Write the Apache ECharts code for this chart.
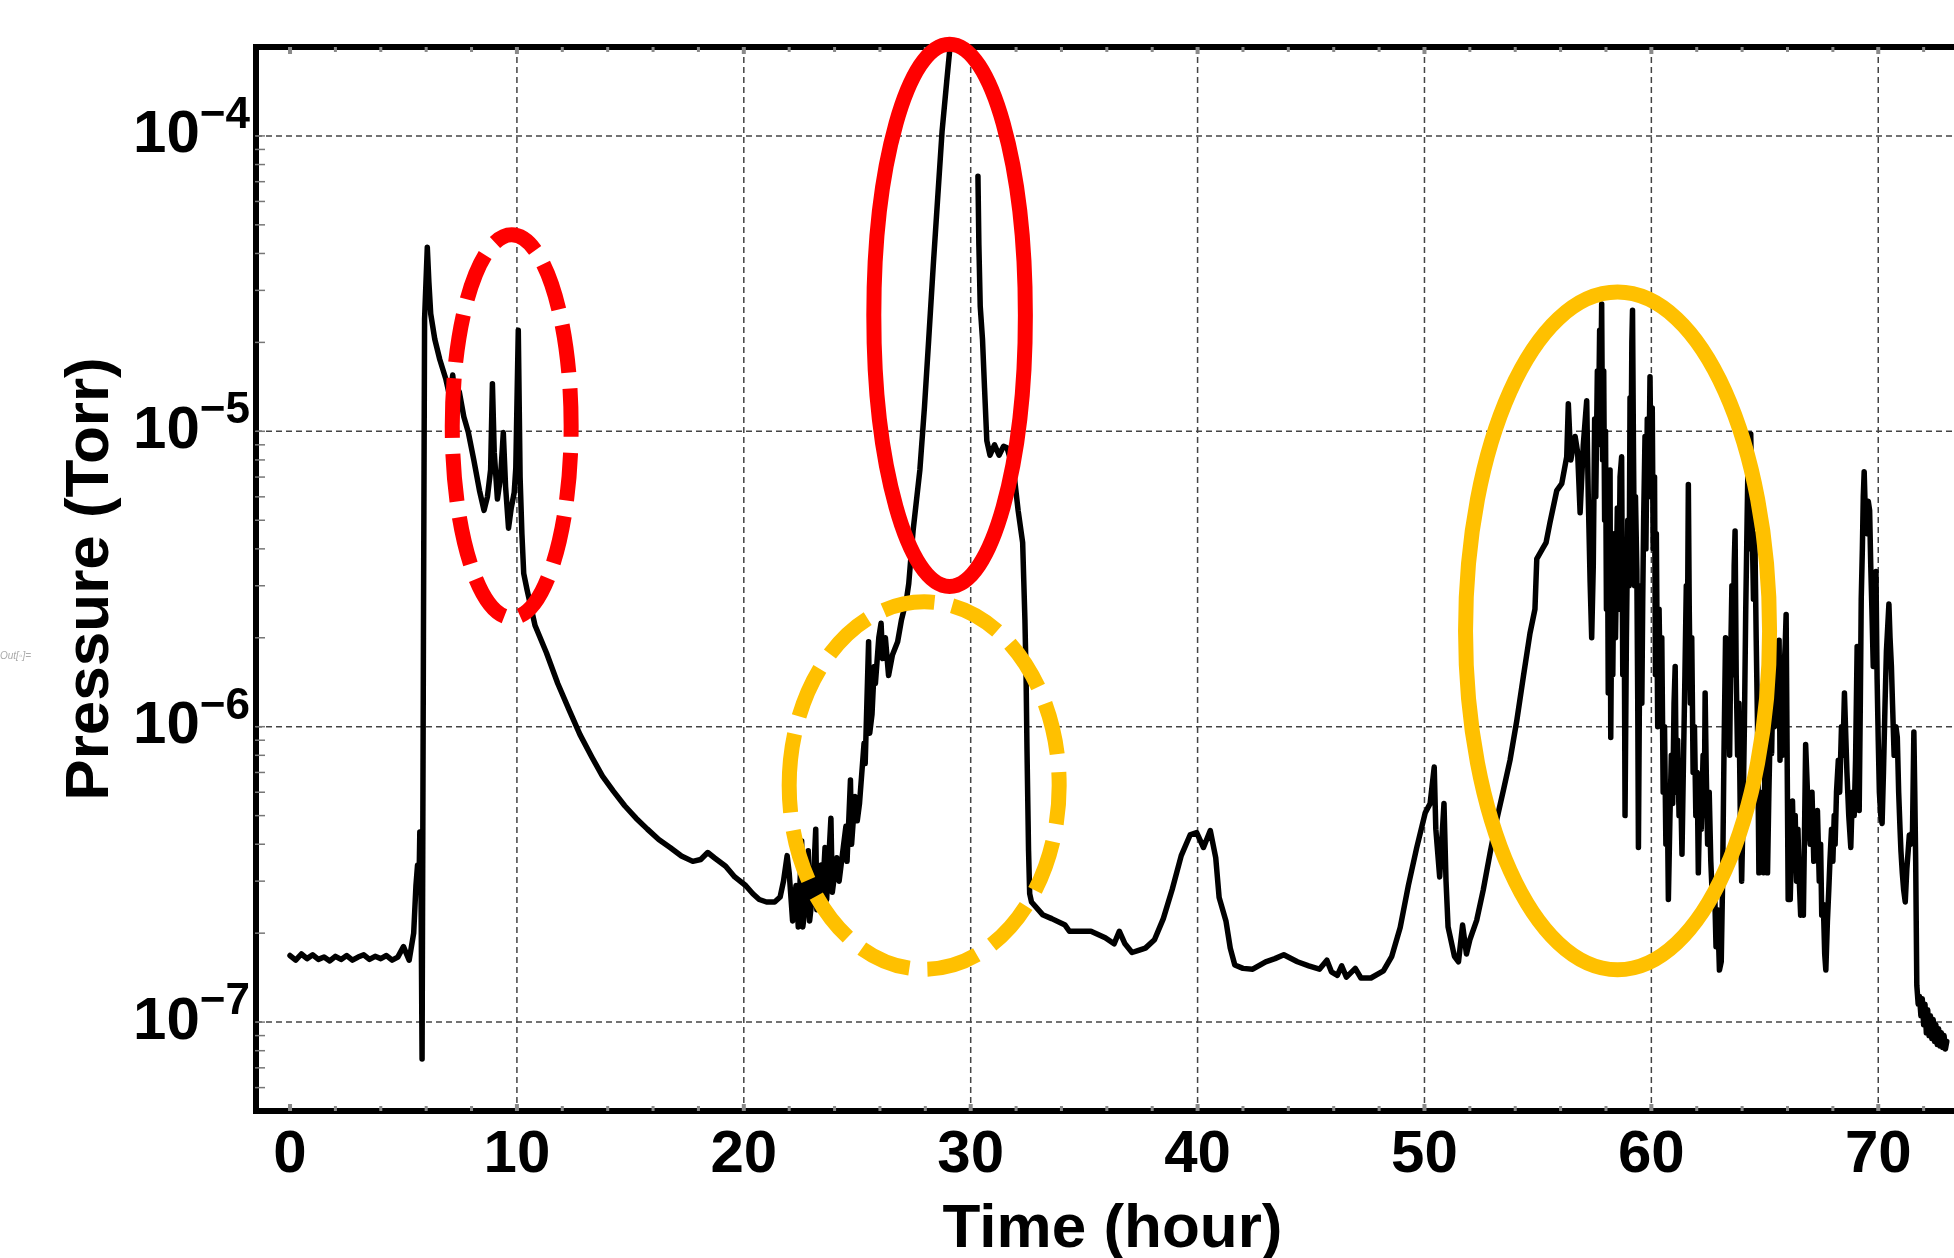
<!DOCTYPE html>
<html>
<head>
<meta charset="utf-8">
<title>Pressure (Torr) vs Time (hour)</title>
<script src="https://cdn.jsdelivr.net/npm/echarts@6/dist/echarts.min.js"></script>
<style>
    html, body { margin: 0; padding: 0; background: #ffffff; }
    #main { width: 1954px; height: 1258px; }
</style>
</head>
<body>
<div id="main"></div>
<script>
// 时间 (hour)
var timeHours = [
    0, 0.25, 0.5, 0.75, 1.0, 1.25, 1.5, 1.75, 2.0, 2.25,
    2.5, 2.75, 3.0, 3.25, 3.5, 3.75, 4.0, 4.25, 4.5, 4.75,
    5.0, 5.25, 5.45, 5.55, 5.62, 5.68, 5.72, 5.77, 5.82, 5.88,
    5.93, 6.05, 6.12, 6.2, 6.38, 6.6, 6.87, 7.05, 7.17, 7.25,
    7.46, 7.66, 7.86, 8.1, 8.35, 8.55, 8.7, 8.84, 8.92, 9.0,
    9.14, 9.28, 9.4, 9.5, 9.63, 9.75, 9.88, 9.95, 10.06, 10.14,
    10.22, 10.3, 10.45, 10.8, 11.3, 11.8, 12.3, 12.78, 13.3, 13.77,
    14.25, 14.75, 15.25, 15.75, 16.25, 16.75, 17.25, 17.75, 18.1, 18.41,
    18.7, 19.2, 19.6, 20.08, 20.4, 20.68, 21.0, 21.36, 21.6, 21.75,
    21.91, 22.0, 22.1, 22.15, 22.3, 22.4, 22.55, 22.6, 22.75, 22.84,
    22.9, 23.05, 23.17, 23.22, 23.4, 23.45, 23.58, 23.65, 23.84, 23.9,
    24.1, 24.2, 24.5, 24.55, 24.7, 24.75, 24.9, 25.0, 25.1, 25.3,
    25.35, 25.5, 25.55, 25.65, 25.75, 25.8, 25.95, 26.05, 26.12, 26.24,
    26.38, 26.55, 26.78, 26.95, 27.17, 27.27, 27.46, 27.76, 27.96, 28.15,
    28.35, 28.55, 28.74, 28.94, 29.08, 29.6, 30.32, 30.36, 30.42, 30.52,
    30.61, 30.71, 30.85, 31.05, 31.25, 31.45, 31.6, 31.89, 32.09, 32.29,
    32.39, 32.44, 32.48, 32.55, 32.6, 32.68, 33.17, 33.57, 34.16, 34.35,
    34.8, 35.3, 35.93, 36.32, 36.55, 36.8, 37.11, 37.4, 37.7, 38.1,
    38.49, 38.88, 39.28, 39.67, 39.96, 40.26, 40.56, 40.8, 40.95, 41.25,
    41.44, 41.64, 42.0, 42.43, 43.0, 43.41, 43.8, 44.4, 44.9, 45.37,
    45.7, 45.9, 46.16, 46.35, 46.56, 46.95, 47.2, 47.64, 48.19, 48.56,
    48.93, 49.29, 49.66, 50.03, 50.25, 50.43, 50.5, 50.67, 50.86, 50.95,
    51.04, 51.32, 51.5, 51.68, 51.85, 52.0, 52.3, 52.59, 52.89, 53.18,
    53.48, 53.77, 54.07, 54.36, 54.65, 54.87, 54.95, 55.2, 55.36, 55.53,
    55.83, 56.05, 56.27, 56.34, 56.45, 56.64, 56.75, 56.86, 57.0, 57.15,
    57.22, 57.3, 57.37, 57.44, 57.5, 57.55, 57.62, 57.66, 57.72, 57.76,
    57.81, 57.85, 57.9, 57.94, 57.98, 58.02, 58.06, 58.1, 58.14, 58.18,
    58.21, 58.26, 58.3, 58.36, 58.42, 58.5, 58.56, 58.62, 58.69, 58.74,
    58.8, 58.84, 58.9, 58.96, 59.02, 59.06, 59.1, 59.14, 59.17, 59.21,
    59.26, 59.3, 59.36, 59.4, 59.43, 59.48, 59.53, 59.58, 59.62, 59.66,
    59.72, 59.76, 59.82, 59.88, 59.94, 59.98, 60.04, 60.08, 60.14, 60.18,
    60.22, 60.28, 60.34, 60.4, 60.46, 60.52, 60.58, 60.64, 60.7, 60.75,
    60.82, 60.88, 60.94, 61.0, 61.05, 61.1, 61.16, 61.22, 61.28, 61.35,
    61.42, 61.48, 61.54, 61.58, 61.63, 61.67, 61.72, 61.78, 61.84, 61.9,
    61.96, 62.02, 62.07, 62.14, 62.2, 62.28, 62.33, 62.37, 62.42, 62.48,
    62.55, 62.62, 62.7, 62.78, 62.85, 62.92, 63.0, 63.08, 63.14, 63.2,
    63.27, 63.31, 63.36, 63.4, 63.45, 63.5, 63.55, 63.6, 63.65, 63.69,
    63.74, 63.8, 63.86, 63.92, 63.98, 64.04, 64.1, 64.16, 64.22, 64.28,
    64.33, 64.38, 64.44, 64.5, 64.56, 64.62, 64.68, 64.74, 64.8, 64.86,
    64.94, 65.0, 65.06, 65.12, 65.18, 65.24, 65.3, 65.36, 65.42, 65.48,
    65.54, 65.6, 65.63, 65.67, 65.72, 65.78, 65.84, 65.9, 65.94, 65.99,
    66.03, 66.08, 66.12, 66.18, 66.22, 66.28, 66.34, 66.4, 66.46, 66.52,
    66.58, 66.64, 66.7, 66.76, 66.8, 66.86, 66.92, 67.0, 67.08, 67.16,
    67.24, 67.32, 67.4, 67.46, 67.51, 67.58, 67.64, 67.69, 67.76, 67.82,
    67.87, 67.94, 68.0, 68.06, 68.1, 68.16, 68.24, 68.3, 68.38, 68.44,
    68.51, 68.57, 68.62, 68.7, 68.79, 68.86, 68.94, 69.0, 69.07, 69.12,
    69.16, 69.21, 69.25, 69.3, 69.34, 69.38, 69.44, 69.5, 69.56, 69.62,
    69.67, 69.72, 69.78, 69.84, 69.9, 69.95, 70.0, 70.05, 70.11, 70.17,
    70.23, 70.3, 70.36, 70.42, 70.47, 70.52, 70.58, 70.63, 70.7, 70.78,
    70.84, 70.9, 70.96, 71.0, 71.06, 71.12, 71.19, 71.26, 71.32, 71.37,
    71.44, 71.51, 71.57, 71.61, 71.65, 71.7, 71.76, 71.82, 71.88, 71.94,
    72.0, 72.06, 72.12, 72.18, 72.24, 72.3, 72.36, 72.42, 72.48, 72.54,
    72.6, 72.66, 72.72, 72.78, 72.84, 72.9, 72.96, 73.02
];

// 压力 (Torr), null = 断开
var pressureTorr = [
    1.68e-7, 1.62e-7, 1.70e-7, 1.64e-7, 1.69e-7, 1.63e-7, 1.66e-7, 1.61e-7, 1.67e-7, 1.63e-7,
    1.68e-7, 1.62e-7, 1.66e-7, 1.69e-7, 1.63e-7, 1.67e-7, 1.64e-7, 1.68e-7, 1.62e-7, 1.66e-7,
    1.80e-7, 1.62e-7, 2.0e-7, 2.9e-7, 3.4e-7, 2.8e-7, 4.4e-7, 3.0e-7, 7.5e-8, 2.0e-6,
    2.4e-5, 4.2e-5, 3.2e-5, 2.5e-5, 2.05e-5, 1.75e-5, 1.5e-5, 1.3e-5, 1.55e-5, 1.35e-5,
    1.36e-5, 1.12e-5, 9.9e-6, 8.0e-6, 6.3e-6, 5.4e-6, 6.0e-6, 7.4e-6, 1.45e-5, 8.5e-6,
    5.9e-6, 7.0e-6, 9.9e-6, 6.5e-6, 4.7e-6, 5.5e-6, 6.2e-6, 7.5e-6, 2.2e-5, 7.0e-6,
    4.5e-6, 3.3e-6, 2.9e-6, 2.2e-6, 1.78e-6, 1.4e-6, 1.14e-6, 9.4e-7, 7.9e-7, 6.8e-7,
    6.05e-7, 5.4e-7, 4.9e-7, 4.5e-7, 4.15e-7, 3.9e-7, 3.65e-7, 3.5e-7, 3.55e-7, 3.75e-7,
    3.6e-7, 3.37e-7, 3.1e-7, 2.9e-7, 2.72e-7, 2.6e-7, 2.55e-7, 2.55e-7, 2.65e-7, 3.0e-7,
    3.66e-7, 3.2e-7, 2.5e-7, 2.2e-7, 2.9e-7, 2.1e-7, 4.1e-7, 2.1e-7, 2.6e-7, 3.8e-7,
    2.2e-7, 2.8e-7, 4.5e-7, 2.4e-7, 3.4e-7, 2.55e-7, 3.9e-7, 2.6e-7, 4.9e-7, 2.75e-7,
    3.6e-7, 3.0e-7, 4.6e-7, 3.5e-7, 6.6e-7, 4.0e-7, 5.8e-7, 4.8e-7, 5.5e-7, 8.8e-7,
    7.5e-7, 1.94e-6, 9.5e-7, 1.1e-6, 1.6e-6, 1.4e-6, 2.0e-6, 2.24e-6, 1.7e-6, 2.0e-6,
    1.49e-6, 1.75e-6, 1.94e-6, 2.3e-6, 2.7e-6, 3.05e-6, 4.6e-6, 7.4e-6, 1.2e-5, 2.05e-5,
    3.64e-5, 6.25e-5, 1.04e-4, 1.52e-4, 1.97e-4, null, 7.3e-5, 4.3e-5, 2.65e-5, 2.05e-5,
    1.4e-5, 9.3e-6, 8.3e-6, 9.0e-6, 8.3e-6, 8.9e-6, 8.8e-6, 7.4e-6, 5.4e-6, 4.2e-6,
    2.3e-6, 1.5e-6, 8.5e-7, 3.8e-7, 2.72e-7, 2.55e-7, 2.31e-7, 2.24e-7, 2.13e-7, 2.03e-7,
    2.03e-7, 2.03e-7, 1.93e-7, 1.84e-7, 2.03e-7, 1.84e-7, 1.72e-7, 1.75e-7, 1.78e-7, 1.9e-7,
    2.24e-7, 2.81e-7, 3.66e-7, 4.3e-7, 4.38e-7, 3.9e-7, 4.45e-7, 3.6e-7, 2.64e-7, 2.2e-7,
    1.78e-7, 1.56e-7, 1.52e-7, 1.51e-7, 1.6e-7, 1.64e-7, 1.69e-7, 1.6e-7, 1.55e-7, 1.51e-7,
    1.62e-7, 1.48e-7, 1.44e-7, 1.55e-7, 1.42e-7, 1.52e-7, 1.41e-7, 1.41e-7, 1.49e-7, 1.67e-7,
    2.09e-7, 2.9e-7, 3.9e-7, 5.1e-7, 5.5e-7, 7.3e-7, 4.5e-7, 3.1e-7, 5.5e-7, 3.0e-7,
    2.1e-7, 1.67e-7, 1.6e-7, 2.13e-7, 1.7e-7, 1.9e-7, 2.21e-7, 2.8e-7, 3.73e-7, 4.83e-7,
    6.1e-7, 7.7e-7, 1.05e-6, 1.48e-6, 2.07e-6, 2.5e-6, 3.7e-6, 4.0e-6, 4.2e-6, 4.9e-6,
    6.3e-6, 6.65e-6, 8.2e-6, 1.24e-5, 8.0e-6, 9.6e-6, 8.5e-6, 5.3e-6, 9.0e-6, 1.27e-5,
    6.0e-6, 3.1e-6, 2.0e-6, 3.5e-6, 1.1e-5, 6.0e-6, 1.6e-5, 9.0e-6, 2.2e-5, 1.2e-5,
    2.7e-5, 8.0e-6, 1.6e-5, 5.0e-6, 1.0e-5, 2.5e-6, 6.0e-6, 1.3e-6, 4.0e-6, 7.4e-6,
    9.2e-7, 3.0e-6, 1.5e-6, 4.5e-6, 2.0e-6, 5.5e-6, 2.5e-6, 7.0e-6, 8.2e-6, 1.5e-6,
    3.0e-6, 5.0e-7, 2.0e-6, 5.0e-6, 3.0e-6, 1.3e-5, 7.0e-6, 2.0e-5, 2.57e-5, 9.0e-6,
    3.0e-6, 6.0e-6, 3.4e-6, 1.2e-6, 3.9e-7, 1.5e-6, 3.0e-6, 1.2e-6, 2.7e-6, 5.0e-6,
    9.6e-6, 4.0e-6, 1.1e-5, 6.0e-6, 1.53e-5, 8.0e-6, 1.2e-5, 4.0e-6, 7.0e-6, 1.5e-6,
    4.5e-6, 1.0e-6, 2.5e-6, 1.2e-6, 2.0e-6, 6.0e-7, 1.0e-6, 4.0e-7, 6.0e-7, 2.6e-7,
    5.0e-7, 8.0e-7, 5.5e-7, 1.2e-6, 1.6e-6, 6.0e-7, 9.0e-7, 5.0e-7, 7.0e-7, 3.7e-7,
    8.0e-7, 1.5e-6, 3.0e-6, 1.5e-6, 6.6e-6, 2.5e-6, 1.2e-6, 2.0e-6, 7.0e-7, 1.0e-6,
    5.0e-7, 7.0e-7, 3.2e-7, 6.0e-7, 4.5e-7, 8.0e-7, 5.0e-7, 1.3e-6, 7.0e-7, 4.0e-7,
    6.0e-7, 3.5e-7, 2.5e-7, 3.0e-7, 1.8e-7, 2.4e-7, 1.5e-7, 1.6e-7, 3.0e-7, 8.0e-7,
    2.0e-6, 9.0e-7, 1.5e-6, 1.96e-6, 8.0e-7, 1.8e-6, 3.0e-6, 1.5e-6, 3.5e-6, 4.6e-6,
    1.5e-6, 8.0e-7, 1.2e-6, 5.0e-7, 3.0e-7, 5.0e-7, 1.0e-6, 2.5e-6, 5.0e-6, 9.8e-6,
    4.0e-6, 9.8e-6, 5.0e-6, 2.7e-6, 4.5e-6, 2.0e-6, 1.0e-6, 3.2e-7, 6.0e-7, 4.0e-7,
    3.2e-7, 7.0e-7, 1.1e-6, 3.2e-7, 6.0e-7, 1.0e-6, 8.1e-7, 1.4e-6, 1.0e-6, 1.94e-6,
    1.2e-6, 1.6e-6, 1.96e-6, 7.7e-7, 1.2e-6, 8.0e-7, 1.5e-6, 1.9e-6, 2.4e-6, 2.42e-6,
    2.6e-7, 4.0e-7, 2.6e-7, 4.0e-7, 5.6e-7, 3.5e-7, 5.0e-7, 3.0e-7, 4.5e-7, 3.0e-7,
    2.3e-7, 3.5e-7, 2.3e-7, 5.0e-7, 8.7e-7, 8.8e-7, 5.0e-7, 4.0e-7, 6.0e-7, 3.5e-7,
    4.5e-7, 5.2e-7, 3.0e-7, 4.0e-7, 2.3e-7, 2.5e-7, 1.7e-7, 1.5e-7, 2.2e-7, 2.8e-7,
    3.5e-7, 4.5e-7, 3.5e-7, 5.0e-7, 4.0e-7, 6.0e-7, 7.7e-7, 6.0e-7, 1.0e-6, 8.0e-7,
    1.3e-6, 1.31e-6, 7.0e-7, 5.0e-7, 3.9e-7, 6.0e-7, 5.0e-7, 7.7e-7, 1.87e-6, 9.0e-7,
    5.2e-7, 1.2e-6, 2.7e-6, 4.0e-6, 6.0e-6, 7.3e-6, 5.0e-6, 4.5e-6, 5.8e-6, 5.4e-6,
    3.5e-6, 2.5e-6, 1.6e-6, 2.6e-6, 3.35e-6, 1.45e-6, 9.0e-7, 6.0e-7, 5.0e-7, 4.7e-7,
    7.0e-7, 1.2e-6, 1.8e-6, 2.2e-6, 2.6e-6, 2.0e-6, 1.6e-6, 1.19e-6, 8.0e-7, 1.0e-6,
    9.2e-7, 6.0e-7, 4.5e-7, 3.8e-7, 3.2e-7, 2.8e-7, 2.55e-7, 3.3e-7, 3.8e-7, 4.3e-7,
    4.0e-7, 4.45e-7, 9.6e-7, 6.0e-7, 3.5e-7, 1.33e-7, 1.15e-7, 1.22e-7, 1.05e-7, 1.2e-7,
    9.8e-8, 1.15e-7, 9.2e-8, 1.1e-7, 9.0e-8, 1.05e-7, 8.8e-8, 1.02e-7, 8.6e-8, 9.8e-8,
    8.4e-8, 9.5e-8, 8.3e-8, 9.2e-8, 8.2e-8, 9.0e-8, 8.1e-8, 8.6e-8
];

// 坐标轴范围与刻度
var xMin = -1.5;
var xMax = 74;
var yMin = 5e-8;
var yMax = 2e-4;
var xGridHours = [10, 20, 30, 40, 50, 60, 70];
var xTickHours = [0, 2, 4, 6, 8, 10, 12, 14, 16, 18, 20, 22, 24, 26, 28, 30, 32, 34, 36,
                  38, 40, 42, 44, 46, 48, 50, 52, 54, 56, 58, 60, 62, 64, 66, 68, 70, 72];
var yGridTorr = [1e-7, 1e-6, 1e-5, 1e-4];
var yTickMantissa = [1, 2, 3, 4, 5, 6, 7, 8, 9];
var yTickDecade = [1e-8, 1e-7, 1e-6, 1e-5, 1e-4];

// 标注椭圆 (数据坐标)
var annotations = [
    { center: [9.77, 1.04e-5], rxHours: 2.62, ryDecades: 0.648, color: '#ff0000', dash: [48, 16] },
    { center: [29.07, 2.47e-5], rxHours: 3.34, ryDecades: 0.918, color: '#ff0000', dash: null },
    { center: [27.95, 6.32e-7], rxHours: 5.95, ryDecades: 0.622, color: '#ffc000', dash: [52, 18] },
    { center: [58.51, 2.11e-6], rxHours: 6.70, ryDecades: 1.147, color: '#ffc000', dash: null }
];

var FONT = 'Liberation Sans, Arial, sans-serif';

var seriesData = timeHours.map(function (t, i) { return [t, pressureTorr[i]]; });

var yTickTorr = [];
yTickDecade.forEach(function (d) {
    yTickMantissa.forEach(function (m) {
        var v = m * d;
        if (v > yMin * 1.001 && v < yMax * 0.999) yTickTorr.push(v);
    });
});

var chart = echarts.init(document.getElementById('main'));

var option = {
    animation: false,
    backgroundColor: '#ffffff',
    grid: {
        left: 256,
        top: 47,
        right: -15,
        bottom: 147,
        outerBoundsMode: 'none',
        show: true,
        backgroundColor: 'transparent',
        borderColor: '#000000',
        borderWidth: 6
    },
    xAxis: {
        type: 'value',
        min: xMin,
        max: xMax,
        splitNumber: 8,
        axisLine: { show: false },
        axisTick: { show: false },
        splitLine: { show: false },
        axisLabel: {
            margin: 14,
            color: '#000',
            fontSize: 60,
            fontWeight: 'bold',
            fontFamily: FONT,
            formatter: function (v) {
                return (v % 10 === 0 && v >= 0 && v <= 70) ? String(v) : '';
            }
        },
        name: 'Time (hour)',
        nameLocation: 'middle',
        nameGap: 88,
        nameTextStyle: { color: '#000', fontSize: 62, fontWeight: 'bold', fontFamily: FONT }
    },
    yAxis: {
        type: 'log',
        logBase: 10,
        min: yMin,
        max: yMax,
        axisLine: { show: false },
        axisTick: { show: false },
        splitLine: { show: false },
        axisLabel: {
            margin: 6,
            formatter: function (v) {
                var e = Math.log(v) / Math.LN10;
                var r = Math.round(e);
                if (Math.abs(e - r) > 1e-6) return '';
                return '{b|10}{s|\u2212' + (-r) + '}';
            },
            rich: {
                b: { color: '#000', fontSize: 60, fontWeight: 'bold', fontFamily: FONT, lineHeight: 60, verticalAlign: 'bottom' },
                s: { color: '#000', fontSize: 44, fontWeight: 'bold', fontFamily: FONT, lineHeight: 44, verticalAlign: 'bottom', padding: [0, 0, 28, 0] }
            }
        },
        name: 'Pressure (Torr)',
        nameLocation: 'middle',
        nameGap: 131,
        nameRotate: 90,
        nameTextStyle: { color: '#000', fontSize: 62, fontWeight: 'bold', fontFamily: FONT }
    },
    series: [
        // 竖向网格线
        {
            type: 'custom',
            coordinateSystem: 'cartesian2d',
            silent: true,
            z: 1,
            data: xGridHours.map(function (h) { return [h, yMin]; }),
            renderItem: function (params, api) {
                var cs = params.coordSys;
                var x = api.coord([api.value(0), yMin])[0];
                return {
                    type: 'line',
                    shape: { x1: x, y1: cs.y, x2: x, y2: cs.y + cs.height },
                    style: { stroke: '#444', lineWidth: 1.5, lineDash: [6, 4] }
                };
            }
        },
        // 横向网格线
        {
            type: 'custom',
            coordinateSystem: 'cartesian2d',
            silent: true,
            z: 1,
            data: yGridTorr.map(function (v) { return [xMin, v]; }),
            renderItem: function (params, api) {
                var cs = params.coordSys;
                var y = api.coord([xMin, api.value(1)])[1];
                return {
                    type: 'line',
                    shape: { x1: cs.x, y1: y, x2: cs.x + cs.width, y2: y },
                    style: { stroke: '#444', lineWidth: 1.5, lineDash: [6, 4] }
                };
            }
        },
        // 压力曲线
        {
            type: 'line',
            data: seriesData,
            showSymbol: false,
            symbol: 'none',
            connectNulls: false,
            sampling: null,
            z: 3,
            lineStyle: { color: '#000', width: 5.5, join: 'round', cap: 'round' }
        },
        // x 轴刻度 (上下)
        {
            type: 'custom',
            coordinateSystem: 'cartesian2d',
            silent: true,
            clip: false,
            z: 4,
            data: xTickHours.map(function (h) { return [h, yMin]; }),
            renderItem: function (params, api) {
                var cs = params.coordSys;
                var h = api.value(0);
                var x = api.coord([h, yMin])[0];
                var major = h % 10 === 0;
                var len = major ? 7 : 5;
                var w = major ? 4 : 3;
                var bottom = cs.y + cs.height;
                return {
                    type: 'group',
                    children: [
                        { type: 'line', shape: { x1: x, y1: bottom, x2: x, y2: bottom - len }, style: { stroke: '#8a8a8a', lineWidth: w } },
                        { type: 'line', shape: { x1: x, y1: cs.y, x2: x, y2: cs.y + len }, style: { stroke: '#8a8a8a', lineWidth: w } }
                    ]
                };
            }
        },
        // y 轴刻度 (对数)
        {
            type: 'custom',
            coordinateSystem: 'cartesian2d',
            silent: true,
            clip: false,
            z: 4,
            data: yTickTorr.map(function (v) { return [xMin, v]; }),
            renderItem: function (params, api) {
                var cs = params.coordSys;
                var y = api.coord([xMin, api.value(1)])[1];
                return {
                    type: 'line',
                    shape: { x1: cs.x - 1, y1: y, x2: cs.x + 9, y2: y },
                    style: { stroke: '#777', lineWidth: 1.5 }
                };
            }
        }
    ]
};

chart.setOption(option);

// 椭圆标注
function ellipse_graphic(a) {
    var c = chart.convertToPixel({ xAxisIndex: 0, yAxisIndex: 0 }, a.center);
    var e = chart.convertToPixel({ xAxisIndex: 0, yAxisIndex: 0 },
        [a.center[0] + a.rxHours, a.center[1] * Math.pow(10, a.ryDecades)]);
    var style = { fill: 'none', stroke: a.color, lineWidth: 15 };
    if (a.dash) style.lineDash = a.dash;
    return {
        type: 'ellipse',
        silent: true,
        z: 100,
        shape: { cx: c[0], cy: c[1], rx: e[0] - c[0], ry: c[1] - e[1] },
        style: style
    };
}

var graphics = annotations.map(ellipse_graphic);
graphics.push({
    type: 'text',
    left: 0,
    top: 651,
    silent: true,
    style: { text: 'Out[\u25e6]=', fill: '#aaaaaa', font: 'italic 10px ' + FONT }
});

chart.setOption({ graphic: graphics });
</script>
</body>
</html>
